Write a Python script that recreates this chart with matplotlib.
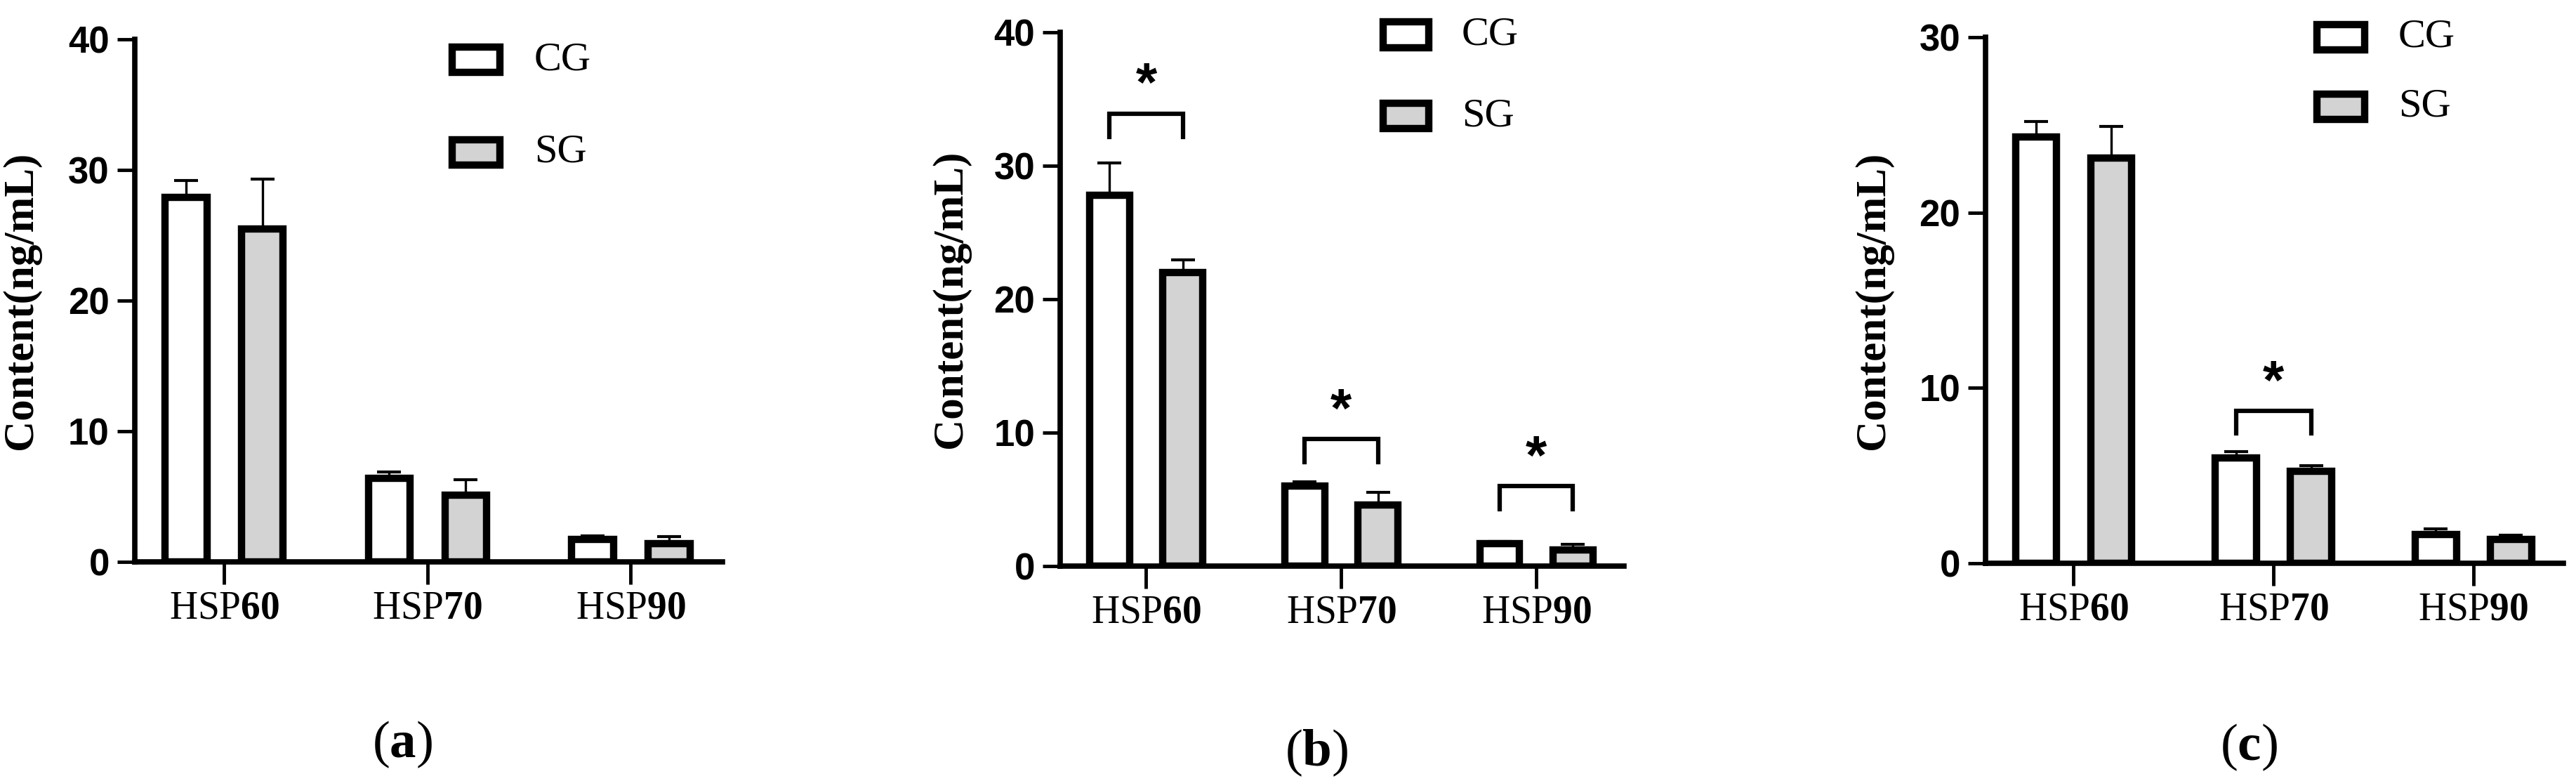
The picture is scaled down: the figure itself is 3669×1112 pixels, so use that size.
import numpy as np
import matplotlib
matplotlib.use('Agg')
import matplotlib.pyplot as plt
from matplotlib.patches import Rectangle
from matplotlib import font_manager

# categories / series
genes = ['60', '70', '90']
groups = ['CG', 'SG']
panel_tags = ['a', 'b', 'c']

# panel (a)
a_cg = [27.9, 6.4, 1.7]
a_cg_err = [1.3, 0.5, 0.3]
a_sg = [25.5, 5.1, 1.4]
a_sg_err = [3.8, 1.2, 0.55]

# panel (b)
b_cg = [27.8, 6.0, 1.7]
b_cg_err = [2.4, 0.3, 0.15]
b_sg = [22.0, 4.6, 1.2]
b_sg_err = [0.95, 0.9, 0.45]

# panel (c)
c_cg = [24.3, 6.0, 1.65]
c_cg_err = [0.9, 0.35, 0.3]
c_sg = [23.1, 5.25, 1.38]
c_sg_err = [1.8, 0.32, 0.23]

# significance brackets (category index, bracket height)
a_sig, a_bracket = [], []
b_sig, b_bracket = [0, 1, 2], [33.9, 9.5, 6.0]
c_sig, c_bracket = [1], [8.7]

ymaxes = [40, 40, 30]

names = {f.name for f in font_manager.fontManager.ttflist}
num_font = 'Liberation Sans Narrow' if 'Liberation Sans Narrow' in names else 'Liberation Sans'

plt.rcParams['font.family'] = 'Liberation Sans'
plt.rcParams['mathtext.fontset'] = 'custom'
plt.rcParams['mathtext.rm'] = 'Liberation Serif'
plt.rcParams['mathtext.bf'] = 'Liberation Serif:bold'

GRAY = '#d3d3d3'
EDGE_LW = 7.5
SPINE_LW = 5.5

fig = plt.figure(figsize=(36.69, 11.12), dpi=100)
positions = [
    [0.0523, 0.2806, 0.2281, 0.669],
    [0.4116, 0.2752, 0.2189, 0.6835],
    [0.7708, 0.2788, 0.2243, 0.6736],
]
legend_pos = [  # x of box left, y centres of CG / SG rows (axes fraction)
    (0.540, 0.961, 0.784),
    (0.572, 0.995, 0.843),
    (0.574, 1.000, 0.868),
]

panels = [
    (a_cg, a_cg_err, a_sg, a_sg_err, a_sig, a_bracket),
    (b_cg, b_cg_err, b_sg, b_sg_err, b_sig, b_bracket),
    (c_cg, c_cg_err, c_sg, c_sg_err, c_sig, c_bracket),
]

x = np.arange(len(genes))
off = 0.188
w = 0.205

for k, (cg, cg_err, sg, sg_err, sig, brk) in enumerate(panels):
    ax = fig.add_axes(positions[k])
    ymax = ymaxes[k]

    for xs, vals, errs, fc in [(x - off, cg, cg_err, 'white'), (x + off, sg, sg_err, GRAY)]:
        ax.errorbar(xs, vals, yerr=[np.zeros(len(vals)), errs], fmt='none',
                    ecolor='black', elinewidth=2.4, capsize=12.5, capthick=3, zorder=2)
        ax.bar(xs, vals, width=w, color=fc, edgecolor='black', linewidth=EDGE_LW, zorder=3)

    # significance brackets
    leg = 0.043 * ymax
    for i, h in zip(sig, brk):
        ax.plot([i - off, i - off, i + off, i + off], [h - leg, h, h, h - leg],
                color='black', lw=4.5, solid_joinstyle='miter', clip_on=False)
        ax.text(i, h + 0.05 * ymax, '*', ha='center', va='center',
                fontsize=56, fontweight='bold', family='Liberation Sans')

    ax.set_xlim(-0.44, 2.45)
    ax.set_ylim(0, ymax)
    ax.set_yticks(np.arange(0, ymax + 1, 10))
    ax.set_xticks(x)
    ax.set_xticklabels(['HSP$\\mathbf{%s}$' % g for g in genes],
                       fontsize=40, family='Liberation Serif')
    for lab in ax.get_yticklabels():
        lab.set_family(num_font)
        lab.set_fontweight('bold')
        lab.set_fontsize(38)

    for s in ['top', 'right']:
        ax.spines[s].set_visible(False)
    for s in ['left', 'bottom']:
        ax.spines[s].set_linewidth(SPINE_LW)
    ax.tick_params(axis='y', length=18, width=3.5, pad=8)
    ax.tick_params(axis='x', length=23, width=3.5, pad=6)

    ax.set_ylabel('Content(ng/mL)', family='Liberation Serif', fontweight='bold', fontsize=44)
    ax.yaxis.set_label_coords(-0.16, 0.5)

    # legend drawn by hand
    lx, y_cg, y_sg = legend_pos[k]
    bw, bh = 0.082, 0.048
    for name, fc, yc in [(groups[0], 'white', y_cg), (groups[1], GRAY, y_sg)]:
        ax.add_patch(Rectangle((lx, yc - bh / 2), bw, bh, transform=ax.transAxes,
                               facecolor=fc, edgecolor='black', linewidth=EDGE_LW,
                               clip_on=False))
        ax.text(lx + bw + 0.058, yc, name, transform=ax.transAxes, ha='left', va='center',
                fontsize=42, family='Liberation Serif')

    ax.text(0.455, -0.35, '($\\mathbf{%s}$)' % panel_tags[k], transform=ax.transAxes,
            ha='center', va='center', fontsize=54, family='Liberation Serif')

fig.savefig('out.png', dpi=100)
